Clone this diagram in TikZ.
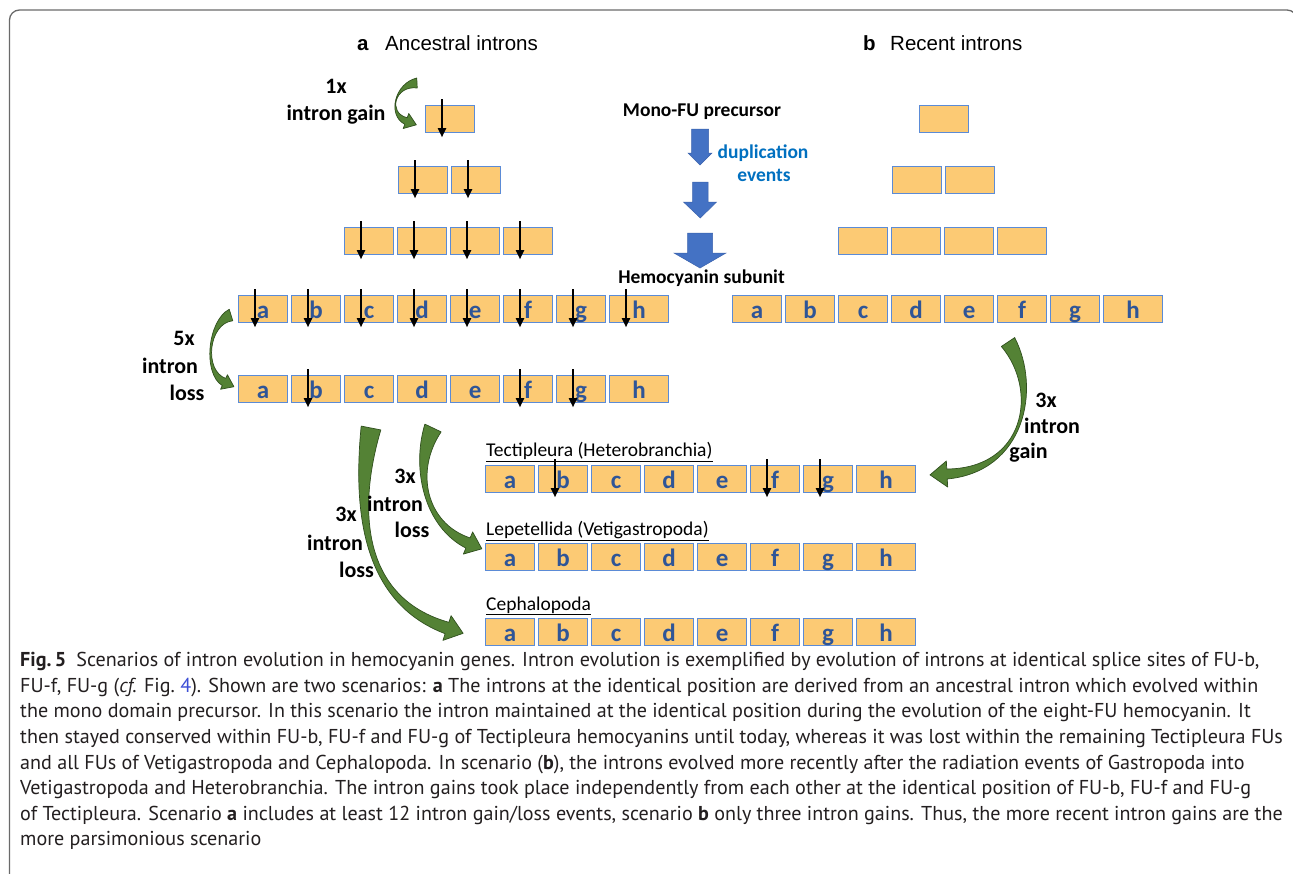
\documentclass[tikz,border=0pt]{standalone}
\usepackage{fontspec}
\setmainfont{Carlito}
\newfontfamily\capfont{PT Sans}
\newfontfamily\titlefont{Liberation Sans}
\usetikzlibrary{arrows.meta,calc}
\pgfdeclarelayer{bg}
\pgfsetlayers{bg,main}
\definecolor{boxfill}{HTML}{FCCA74}
\definecolor{boxline}{HTML}{5B8BD6}
\definecolor{lettc}{HTML}{2F5597}
\definecolor{dupblue}{HTML}{0070C0}
\definecolor{arrblue}{HTML}{4472C4}
\definecolor{arrbluedk}{HTML}{3A62AD}
\definecolor{grfill}{HTML}{548235}
\definecolor{grline}{HTML}{30501E}
\definecolor{framec}{HTML}{6A6A6A}
\definecolor{captext}{HTML}{231F20}
\definecolor{linkblue}{HTML}{3D4FD6}
\newcommand\fs[1]{\fontsize{#1}{#1}\selectfont}
\newcommand\lrow[3]{%
  \foreach \l/\w [count=\i from 0] in {a/49,b/49,c/49,d/49,e/49,f/49,g/49,h/59}
    {\node[fu, minimum width=\w pt] (#1\l) at ({#2+\i*53},#3) {\l};}
  \begin{pgfonlayer}{bg}
  \foreach \p/\q in {a/b,b/c,c/d,d/e,e/f,f/g,g/h}
    {\draw[fulink] ($(#1\p.east)+(-1,-4)$) rectangle ($(#1\q.west)+(1,4)$);}
  \end{pgfonlayer}}
\newcommand\lnk[2]{\begin{pgfonlayer}{bg}\draw[fulink] ($(#1.east)+(-1,-4)$) rectangle ($(#2.west)+(1,4)$);\end{pgfonlayer}}
\newcommand\intron[1]{\draw[intr] ($(#1.north west)+(17,-6)$) -- ($(#1.south west)+(17,4)$);}
\newcommand\garrow[9]{%
 \filldraw[garr]
  ($(#1)!#5!-90:(#2)$) .. controls ($(#2)!#6!90:(#1)$) and ($(#3)!#6!-90:(#4)$) .. ($(#4)!#7!90:(#3)$)
  -- ($(#4)!#9!90:(#3)$) -- ($(#4)!#8!180:(#3)$) -- ($(#4)!#9!-90:(#3)$)
  -- ($(#4)!#7!-90:(#3)$) .. controls ($(#3)!#6!90:(#4)$) and ($(#2)!#6!-90:(#1)$) .. ($(#1)!#5!90:(#2)$) -- cycle;}
\begin{document}
\begin{tikzpicture}[x=1pt,y=-1pt,
  fu/.style={draw=boxline, fill=boxfill, line width=1.2pt, minimum width=49pt, minimum height=27pt, inner sep=0pt, anchor=north west, text=lettc, font=\bfseries\fs{25}, text height=19pt, text depth=0pt},
  fulink/.style={draw=boxline, fill=boxfill, line width=0.8pt},
  intr/.style={line width=1.8pt, -{Triangle[length=9pt,width=8pt]}},
  garr/.style={fill=grfill, draw=grline, line width=0.7pt, line join=round},
  lab/.style={font=\bfseries\fs{22}, anchor=base, inner sep=0pt},
  hd/.style={font=\bfseries\fs{19.5}, anchor=base, inner sep=0pt},
  sptxt/.style={font=\fs{19.5}, anchor=base west, inner sep=0pt},
  ttl/.style={font=\titlefont\fs{20.5}, anchor=base west, inner sep=0pt},
  captxt/.style={font=\capfont\fs{20.1}, text=captext, anchor=base west, inner sep=0pt},
  blk/.style={fill=arrblue, draw=arrbluedk, line width=0.5pt},
]
\useasboundingbox (0,0) rectangle (1293,873);
\fill[white] (0,0) rectangle (1293,873);
\draw[framec, line width=1.3pt, rounded corners=10pt] (9.5,880) -- (9.5,10) -- (1297,10) -- (1297,30);

% titles
\node[ttl] (ta) at (357,50) {\bfseries a};
\node[ttl] (tan) at (385,50) {Ancestral introns};
\node[ttl] (tb) at (863,50) {\bfseries b};
\node[ttl] (tbn) at (890,50) {Recent introns};

% left upper rows
\node[fu] (la0) at (425,105) {};
\node[fu] (la1) at (398,166) {};
\node[fu] (la2) at (451,166) {};
\lnk{la1}{la2}
\node[fu] (lb1) at (344,227) {};
\node[fu] (lb2) at (397,227) {};
\node[fu] (lb3) at (450,227) {};
\node[fu] (lb4) at (503,227) {};
\lnk{lb1}{lb2}\lnk{lb2}{lb3}\lnk{lb3}{lb4}
% right upper rows
\node[fu] (ra0) at (919,105) {};
\node[fu] (ra1) at (892,166) {};
\node[fu] (ra2) at (945,166) {};
\lnk{ra1}{ra2}
\node[fu] (rb1) at (838,227) {};
\node[fu] (rb2) at (891,227) {};
\node[fu] (rb3) at (944,227) {};
\node[fu] (rb4) at (997,227) {};
\lnk{rb1}{rb2}\lnk{rb2}{rb3}\lnk{rb3}{rb4}

% full rows
\lrow{H}{238}{295}
\lrow{L}{238}{375}
\lrow{R}{732}{295}
\lrow{T}{485}{465}
\lrow{V}{485}{543}
\lrow{C}{485}{618}

% intron arrows
\intron{la0}
\intron{la1}\intron{la2}
\intron{lb1}\intron{lb2}\intron{lb3}\intron{lb4}
\foreach \l in {a,b,c,d,e,f,g,h} {\intron{H\l}}
\intron{Lb}\intron{Lf}\intron{Lg}
\intron{Tb}\intron{Tf}\intron{Tg}

% middle texts and blue arrows
\node[hd] (mono) at (702,116) {Mono-FU precursor};
\node[hd, text=dupblue] (dup1) at (763,158.3) {duplication};
\node[hd, text=dupblue] (dup2) at (764,181.7) {events};
\node[hd] (hemo) at (701.5,283.3) {Hemocyanin subunit};
\draw[blk] (691.5,129) -- (708.5,129) -- (708.5,153) -- (712,153) -- (700,165) -- (688,153) -- (691.5,153) -- cycle;
\draw[blk] (692.5,182) -- (708,182) -- (708,202) -- (716.5,202) -- (700.3,218) -- (683.5,202) -- (692.5,202) -- cycle;
\draw[blk] (687.5,233) -- (712.5,233) -- (712.5,253) -- (726,253) -- (700,268) -- (674,253) -- (687.5,253) -- cycle;

% green curved arrows
\garrow{417,83}{395,84}{387,114}{406,121}{5pt}{1pt}{3.5pt}{11pt}{8pt}
\garrow{231,315}{208,322}{203,372}{224,382}{6pt}{1.5pt}{4pt}{11pt}{8pt}
\garrow{371,428}{355,510}{362,600}{447,628}{10pt}{2pt}{6pt}{17pt}{13pt}
\garrow{433,428}{413,470}{425,525}{468,543}{9pt}{2pt}{5.5pt}{15pt}{12pt}
\garrow{1008,342}{1040,390}{1025,470}{947,474}{8pt}{1.5pt}{5pt}{17pt}{13pt}

% arrow labels
\node[lab] (g1a) at (336,93) {1x};
\node[lab] (g1b) at (336,120) {intron gain};
\node[lab] (l5a) at (184,345) {5x};
\node[lab] (l5b) at (170,373) {intron};
\node[lab] (l5c) at (187,400) {loss};
\node[lab] (l3a) at (346,521) {3x};
\node[lab] (l3b) at (335,550) {intron};
\node[lab] (l3c) at (356.5,577) {loss};
\node[lab] (m3a) at (405,483) {3x};
\node[lab] (m3b) at (395,511) {intron};
\node[lab] (m3c) at (412,537.7) {loss};
\node[lab] (r3a) at (1046,407) {3x};
\node[lab] (r3b) at (1052,433) {intron};
\node[lab] (r3c) at (1028.5,458) {gain};

% species labels
\node[sptxt] (sT) at (486,456.7) {\underline{Tectipleura (Heterobranchia)}};
\node[sptxt] (sV) at (486,535.7) {\underline{Lepetellida (Vetigastropoda)}};
\node[sptxt] (sC) at (486,610) {\underline{Cephalopoda}};

% caption
\node[captxt] (c1) at (20,666.7) {{\bfseries Fig.\,5}\enspace Scenarios of intron evolution in hemocyanin genes. Intron evolution is exemplified by evolution of introns at identical splice sites of FU-b,};
\node[captxt] (c2) at (20,692.3) {FU-f, FU-g ({\itshape cf.} Fig.~{\color{linkblue}4}). Shown are two scenarios: {\bfseries a} The introns at the identical position are derived from an ancestral intron which evolved within};
\node[captxt] (c3) at (20,717.9) {the mono domain precursor. In this scenario the intron maintained at the identical position during the evolution of the eight-FU hemocyanin. It};
\node[captxt] (c4) at (20,743.5) {then stayed conserved within FU-b, FU-f and FU-g of Tectipleura hemocyanins until today, whereas it was lost within the remaining Tectipleura FUs};
\node[captxt] (c5) at (20,769.1) {and all FUs of Vetigastropoda and Cephalopoda. In scenario ({\bfseries b}), the introns evolved more recently after the radiation events of Gastropoda into};
\node[captxt] (c6) at (20,794.7) {Vetigastropoda and Heterobranchia. The intron gains took place independently from each other at the identical position of FU-b, FU-f and FU-g};
\node[captxt] (c7) at (20,820.3) {of Tectipleura. Scenario {\bfseries a} includes at least 12 intron gain/loss events, scenario {\bfseries b} only three intron gains. Thus, the more recent intron gains are the};
\node[captxt] (c8) at (20,845.9) {more parsimonious scenario};
\end{tikzpicture}
\end{document}
